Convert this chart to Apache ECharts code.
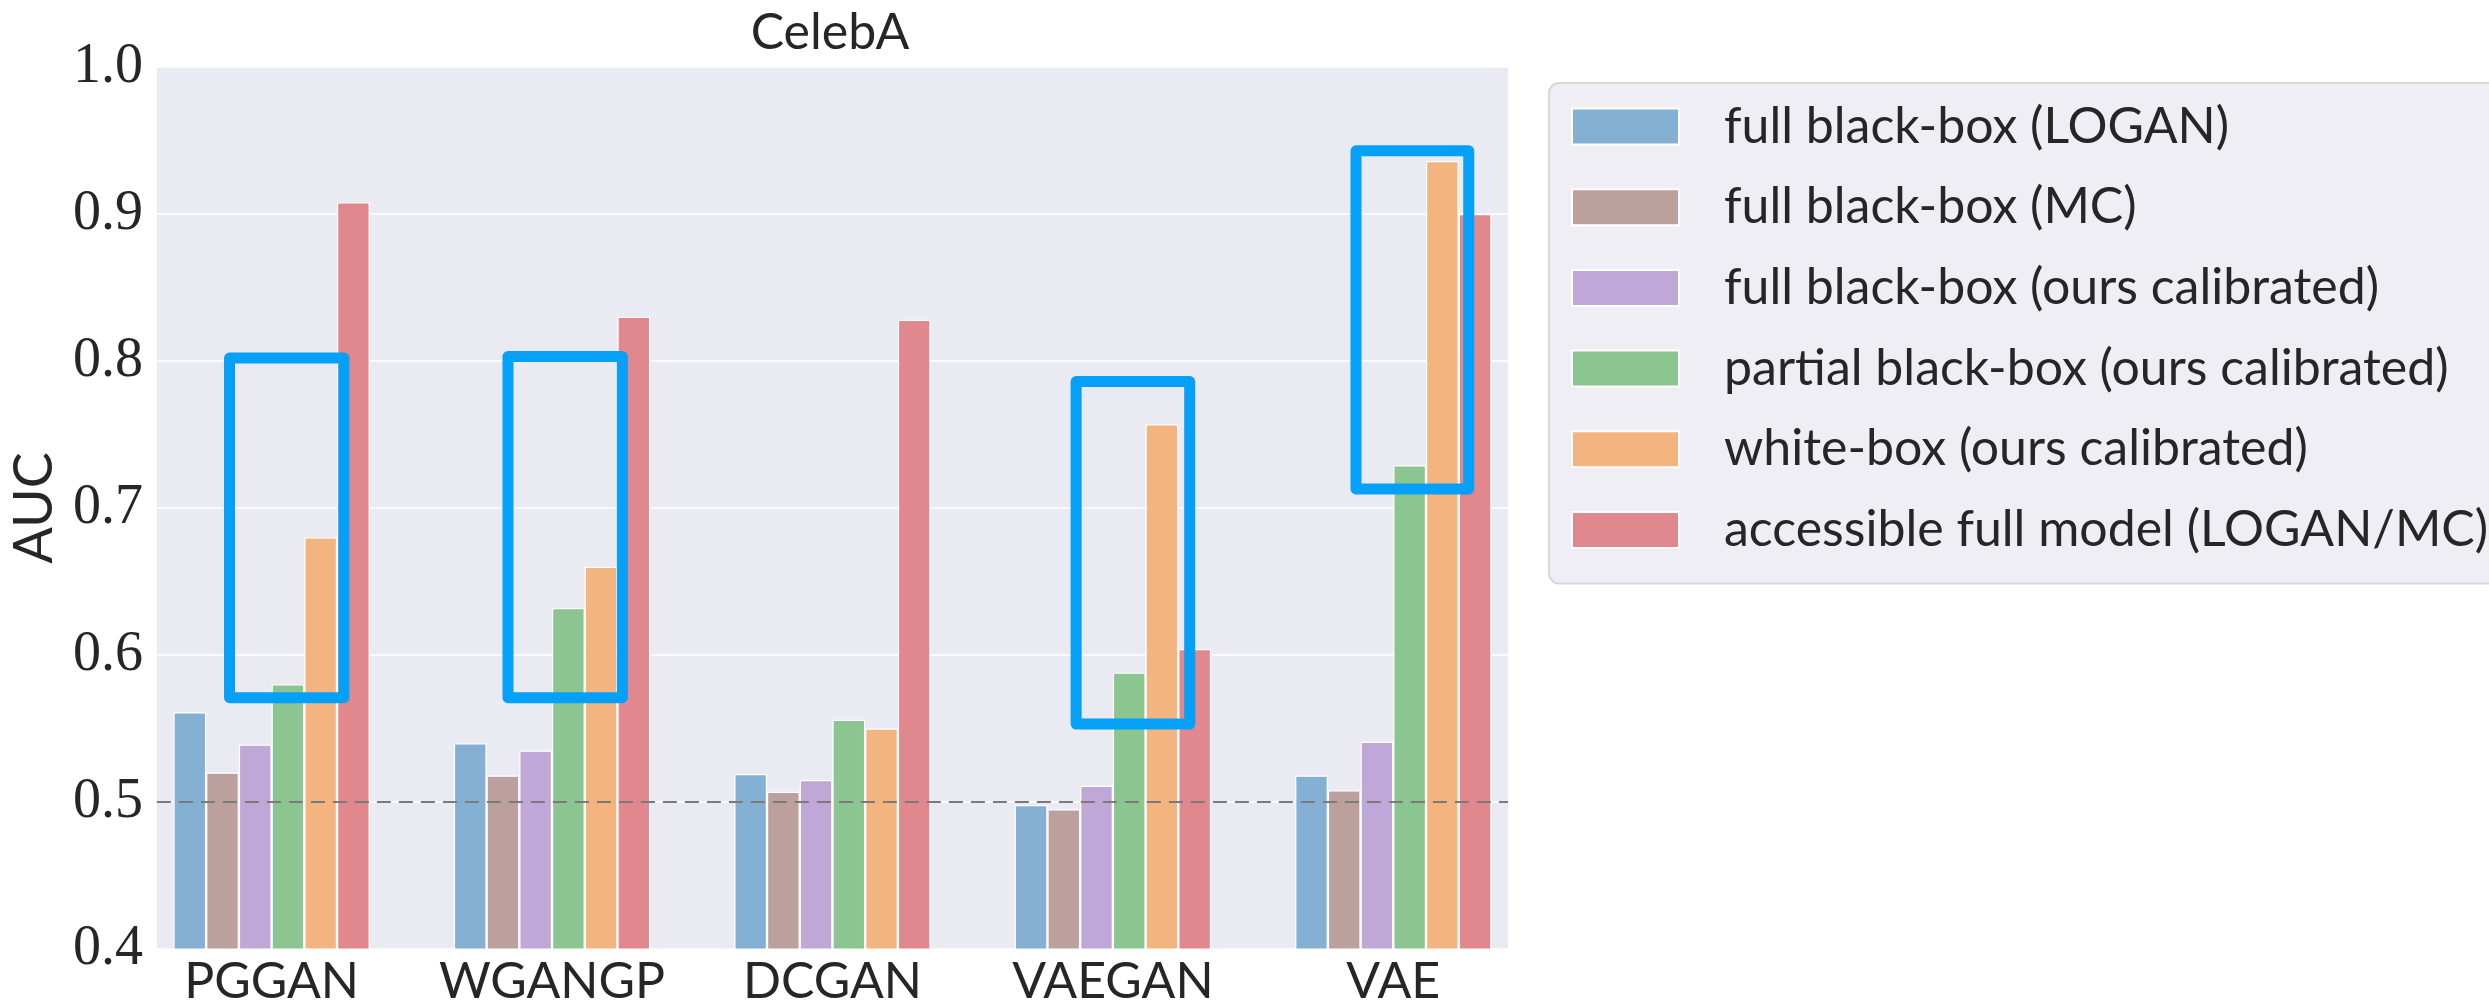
<!DOCTYPE html>
<html>
<head>
<meta charset="utf-8">
<script src="https://cdn.jsdelivr.net/npm/echarts@6/dist/echarts.min.js"></script>
<style>
  html, body { margin: 0; padding: 0; background: #ffffff; }
  #chart { width: 2489px; height: 1007px; }
</style>
</head>
<body>
<div id="chart"></div>
<script>
// CelebA membership inference AUC per generative model
const models = ['PGGAN', 'WGANGP', 'DCGAN', 'VAEGAN', 'VAE'];
const attackNames = [
  'full black-box (LOGAN)',
  'full black-box (MC)',
  'full black-box (ours calibrated)',
  'partial black-box (ours calibrated)',
  'white-box (ours calibrated)',
  'accessible full model (LOGAN/MC)'
];
const fullLogan = [0.561, 0.540, 0.519, 0.498, 0.518];
const fullMc = [0.520, 0.518, 0.507, 0.495, 0.508];
const fullCalibrated = [0.539, 0.535, 0.515, 0.511, 0.541];
const partialCalibrated = [0.580, 0.632, 0.556, 0.588, 0.729];
const whiteCalibrated = [0.680, 0.660, 0.550, 0.757, 0.936];
const accessibleModel = [0.908, 0.830, 0.828, 0.604, 0.900];
const chanceLevel = 0.5;
// hand-drawn highlight boxes: [x from, x to, AUC from, AUC to]
const highlights = [
  [-0.150, 0.258, 0.571, 0.802],
  [0.843, 1.251, 0.571, 0.803],
  [2.869, 3.274, 0.553, 0.786],
  [3.867, 4.269, 0.713, 0.943]
];

const seriesValues = [fullLogan, fullMc, fullCalibrated, partialCalibrated, whiteCalibrated, accessibleModel];
const palette = ['#84b0d3', '#bba09e', '#bfa8d7', '#8bc58f', '#f4b480', '#e0888d'];
const textColor = '#262626';
const sans = 'Lato';
const marker = '#05a0f8';

const chart = echarts.init(document.getElementById('chart'));

const barSeries = attackNames.map((name, k) => ({
  name: name,
  type: 'bar',
  barGap: '0%',
  barCategoryGap: '30%',
  data: seriesValues[k].map((v, i) => [i, v]),
  itemStyle: { color: palette[k], borderColor: '#ffffff', borderWidth: 1.2 }
}));

barSeries[0].markLine = {
  silent: true,
  symbol: ['none', 'none'],
  label: { show: false },
  lineStyle: { color: '#7a7a7a', type: [14, 8], width: 2 },
  data: [{ yAxis: chanceLevel }]
};

// a few overlapping strokes so the box looks drawn by hand
function sketchRect(x, y, w, h) {
  const strokes = [[0, 0, 11], [2, -2, 5], [-2, 2, 5], [1, 3, 4]];
  return strokes.map(([dx, dy, lw]) => ({
    type: 'rect',
    shape: { x: x + dx, y: y + dy, width: w - dx, height: h - dy },
    style: { fill: 'none', stroke: marker, lineWidth: lw, lineJoin: 'round' }
  }));
}

const boxSeries = {
  type: 'custom',
  silent: true,
  z: 10,
  clip: false,
  data: highlights,
  renderItem: (params, api) => {
    const a = api.coord([api.value(0), api.value(3)]);
    const b = api.coord([api.value(1), api.value(2)]);
    return {
      type: 'group',
      children: sketchRect(a[0], a[1], b[0] - a[0], b[1] - a[1])
    };
  }
};

chart.setOption({
  animation: false,
  backgroundColor: '#ffffff',
  title: {
    text: 'CelebA',
    left: 830,
    top: 8,
    textAlign: 'center',
    padding: 0,
    textStyle: { fontFamily: sans, fontSize: 50, fontWeight: 'normal', color: textColor }
  },
  grid: {
    left: 152, right: 981, top: 67, bottom: 55,
    show: true, backgroundColor: '#eaeaf2', borderWidth: 0
  },
  legend: {
    data: attackNames,
    orient: 'vertical',
    left: 1549,
    top: 83,
    padding: [18, 40, 28, 22],
    itemWidth: 107,
    itemHeight: 36,
    itemGap: 29.7,
    icon: 'rect',
    backgroundColor: '#eeeef4',
    borderColor: '#d8d8d8',
    borderWidth: 2,
    borderRadius: 10,
    textStyle: {
      fontFamily: sans, fontSize: 50, color: textColor,
      lineHeight: 51, padding: [0, 0, 0, 40]
    }
  },
  xAxis: {
    type: 'value',
    min: -0.409,
    max: 4.409,
    axisLine: { show: false },
    axisTick: { show: false },
    splitLine: { show: false },
    axisLabel: {
      customValues: [0, 1, 2, 3, 4],
      formatter: v => models[v],
      margin: 8,
      fontFamily: sans, fontSize: 50, color: textColor
    }
  },
  yAxis: {
    type: 'value',
    min: 0.4,
    max: 1.0,
    interval: 0.1,
    name: 'AUC',
    nameLocation: 'middle',
    nameGap: 94,
    nameTextStyle: { fontFamily: sans, fontSize: 54, color: textColor },
    axisLine: { show: false },
    axisTick: { show: false },
    splitLine: { lineStyle: { color: '#ffffff', width: 1.6 } },
    axisLabel: {
      formatter: v => v.toFixed(1),
      margin: 14,
      fontFamily: 'Liberation Serif', fontSize: 56, color: textColor
    }
  },
  series: [...barSeries, boxSeries]
});
</script>
</body>
</html>
